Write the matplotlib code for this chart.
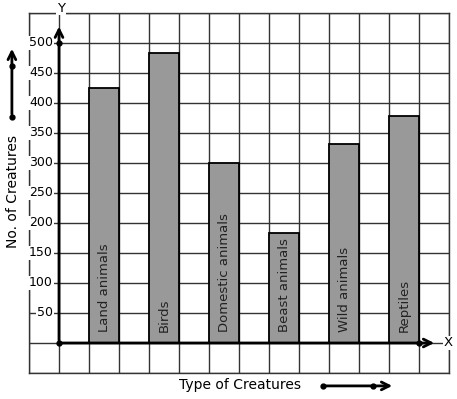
import numpy as np
import matplotlib.pyplot as plt

# data
creatures = ["Land animals", "Birds", "Domestic animals", "Beast animals", "Wild animals", "Reptiles"]
counts = [425, 483, 300, 184, 331, 379]
bar_pos = [1, 3, 5, 7, 9, 11]
yticks = [50, 100, 150, 200, 250, 300, 350, 400, 450, 500]
ytick_labels = ["50", "100", "150", "200", "250", "300", "350", "400", "450", "500"]

fig = plt.figure(figsize=(4.57, 3.99), dpi=100)
ax = fig.add_axes([29 / 457, 1 - 373 / 399, 420 / 457, 360 / 399])
ax.set_xlim(-1, 13)
ax.set_ylim(-50, 550)

# graph paper grid
ax.set_xticks(np.arange(-1, 14, 1))
ax.set_yticks(np.arange(-50, 551, 50))
ax.grid(color='#333333', linewidth=1)
ax.set_axisbelow(True)
ax.tick_params(length=0, labelbottom=False, labelleft=False)
for s in ax.spines.values():
    s.set_color('#333333')
    s.set_linewidth(1)

# bars
ax.bar(bar_pos, counts, width=1, align='edge', color='#999999', edgecolor='black', linewidth=1.3, zorder=3)
for x, name in zip(bar_pos, creatures):
    ax.text(x + 0.5, 18, name, rotation=90, ha='center', va='bottom', fontsize=9.5, color='#222222', zorder=4)

# y tick labels with white background
for v, lab in zip(yticks, ytick_labels):
    ax.text(-0.2, v, lab, ha='right', va='center', fontsize=9, zorder=5,
            bbox=dict(facecolor='white', edgecolor='none', pad=0.5), clip_on=False)

# axes with arrows
ax.annotate('', xy=(12.6, 0), xytext=(0, 0),
            arrowprops=dict(arrowstyle='->', lw=2, color='black', mutation_scale=14), zorder=6)
ax.annotate('', xy=(0, 532), xytext=(0, 0),
            arrowprops=dict(arrowstyle='->', lw=2, color='black', mutation_scale=14), zorder=6)
ax.plot([0, 0, 12], [0, 500, 0], 'o', color='black', markersize=3.5, zorder=7, clip_on=False)
ax.text(0.07, 558, "Y", ha='center', va='center', fontsize=9.5, zorder=7,
        bbox=dict(facecolor='white', edgecolor='none', pad=0.5), clip_on=False)
ax.text(12.97, 0, "X", ha='center', va='center', fontsize=9.5, zorder=7,
        bbox=dict(facecolor='white', edgecolor='none', pad=0.5), clip_on=False)

# axis titles with little arrows
ax.text(-1.53, 252, "No. of Creatures", rotation=90, ha='center', va='center', fontsize=10, clip_on=False)
ax.annotate('', xy=(-1.57, 495), xytext=(-1.57, 377), annotation_clip=False,
            arrowprops=dict(arrowstyle='->', lw=2, color='black', mutation_scale=14))
ax.plot([-1.57, -1.57], [377, 462], 'o', color='black', markersize=3.5, clip_on=False)

ax.text(6.02, -70, "Type of Creatures", ha='center', va='center', fontsize=10, clip_on=False)
ax.annotate('', xy=(11.2, -71.5), xytext=(8.8, -71.5), annotation_clip=False,
            arrowprops=dict(arrowstyle='->', lw=2, color='black', mutation_scale=14))
ax.plot([8.8, 10.47], [-71.5, -71.5], 'o', color='black', markersize=3.5, clip_on=False)

fig.savefig("out.png", dpi=100)
